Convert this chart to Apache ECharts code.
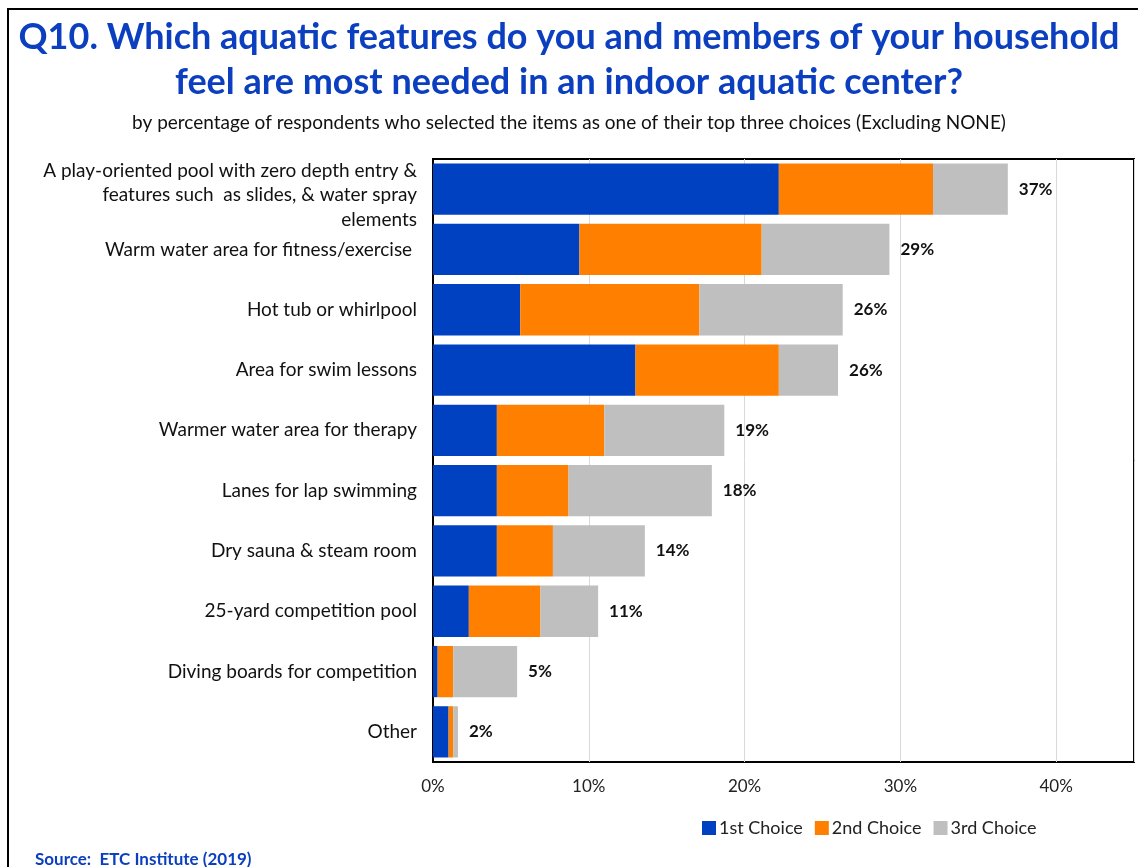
<!DOCTYPE html>
<html>
<head>
<meta charset="utf-8">
<script src="https://cdn.jsdelivr.net/npm/echarts@6/dist/echarts.min.js"></script>
<style>
html,body{margin:0;padding:0;background:#fff;}
#chart{width:1138px;height:867px;}
</style>
</head>
<body>
<div id="chart"></div>
<script>
const categories = [
  "A play-oriented pool with zero depth entry &\nfeatures such  as slides, & water spray\nelements",
  "Warm water area for fitness/exercise ",
  "Hot tub or whirlpool",
  "Area for swim lessons",
  "Warmer water area for therapy",
  "Lanes for lap swimming",
  "Dry sauna & steam room",
  "25-yard competition pool",
  "Diving boards for competition",
  "Other"
];
const firstChoice  = [22.2, 9.4, 5.6, 13.0, 4.1, 4.1, 4.1, 2.3, 0.3, 1.0];
const secondChoice = [9.9, 11.7, 11.5, 9.2, 6.9, 4.6, 3.6, 4.6, 1.0, 0.3];
const thirdChoice  = [4.8, 8.2, 9.2, 3.8, 7.7, 9.2, 5.9, 3.7, 4.1, 0.3];
const totalLabels  = ["37%", "29%", "26%", "26%", "19%", "18%", "14%", "11%", "5%", "2%"];
const seriesNames  = ["1st Choice", "2nd Choice", "3rd Choice"];
const xTicks = [0, 10, 20, 30, 40];

const FONT = "Lato, 'Open Sans', sans-serif";
const chart = echarts.init(document.getElementById('chart'));
const barBase = {type: 'bar', stack: 'total', barCategoryGap: '15%'};
chart.setOption({
  animation: false,
  textStyle: {fontFamily: FONT},
  title: [
    {text: "Q10. Which aquatic features do you and members of your household\nfeel are most needed in an indoor aquatic center?",
     left: 'center', top: 10,
     textStyle: {fontFamily: FONT, fontWeight: 'bold', fontSize: 36, color: '#0B3FBF', lineHeight: 45, align: 'center'}},
    {text: "by percentage of respondents who selected the items as one of their top three choices (Excluding NONE)",
     left: 'center', top: 108,
     textStyle: {fontFamily: FONT, fontWeight: 'normal', fontSize: 19, color: '#111'}},
    {text: "Source:  ETC Institute (2019)", left: 30, top: 846,
     textStyle: {fontFamily: FONT, fontWeight: 'bold', fontSize: 17, color: '#0B3FBF'}}
  ],
  graphic: [
    {type: 'rect', shape: {x: 8, y: 9, width: 1140, height: 870},
     style: {fill: 'none', stroke: '#000', lineWidth: 2}, silent: true}
  ],
  legend: {
    data: seriesNames, left: 697, top: 814, itemWidth: 14, itemHeight: 14, itemGap: 12,
    icon: 'rect',
    textStyle: {fontFamily: FONT, fontSize: 18, color: '#222', padding: [0, 0, 0, -2]}
  },
  grid: {left: 433, right: 4, top: 159, bottom: 105, show: true, borderColor: '#000', borderWidth: 2, containLabel: false},
  xAxis: {
    type: 'value', min: 0, max: 45, interval: 10,
    axisLine: {show: false}, axisTick: {show: false},
    splitLine: {show: true, lineStyle: {color: '#D9D9D9', width: 1}},
    axisLabel: {
      showMaxLabel: false, margin: 16, fontFamily: FONT, fontSize: 17, color: '#222',
      formatter: v => (xTicks.indexOf(v) >= 0 ? v + '%' : '')
    }
  },
  yAxis: {
    type: 'category', data: categories, inverse: true,
    axisLine: {show: true, lineStyle: {color: '#000', width: 2}}, axisTick: {show: false},
    axisLabel: {
      margin: 16, fontFamily: FONT, fontSize: 19, color: '#111', lineHeight: 25, align: 'right',
      formatter: (v, i) => i === 0
        ? '{s| }\n' + v.split('\n').map(l => '{a|' + l + '}').join('\n')
        : v,
      rich: {
        s: {fontSize: 1, lineHeight: 12},
        a: {fontFamily: FONT, fontSize: 19, color: '#111', lineHeight: 24.5}
      }
    }
  },
  series: [
    Object.assign({}, barBase, {name: seriesNames[0], data: firstChoice, itemStyle: {color: '#0041C2'}}),
    Object.assign({}, barBase, {name: seriesNames[1], data: secondChoice, itemStyle: {color: '#FF8000'}}),
    Object.assign({}, barBase, {name: seriesNames[2], data: thirdChoice, itemStyle: {color: '#BFBFBF'},
      label: {show: true, position: 'right', distance: 11, fontFamily: FONT, fontWeight: 'bold', fontSize: 17, color: '#111',
        formatter: p => totalLabels[p.dataIndex]}})
  ]
});
</script>
</body>
</html>
